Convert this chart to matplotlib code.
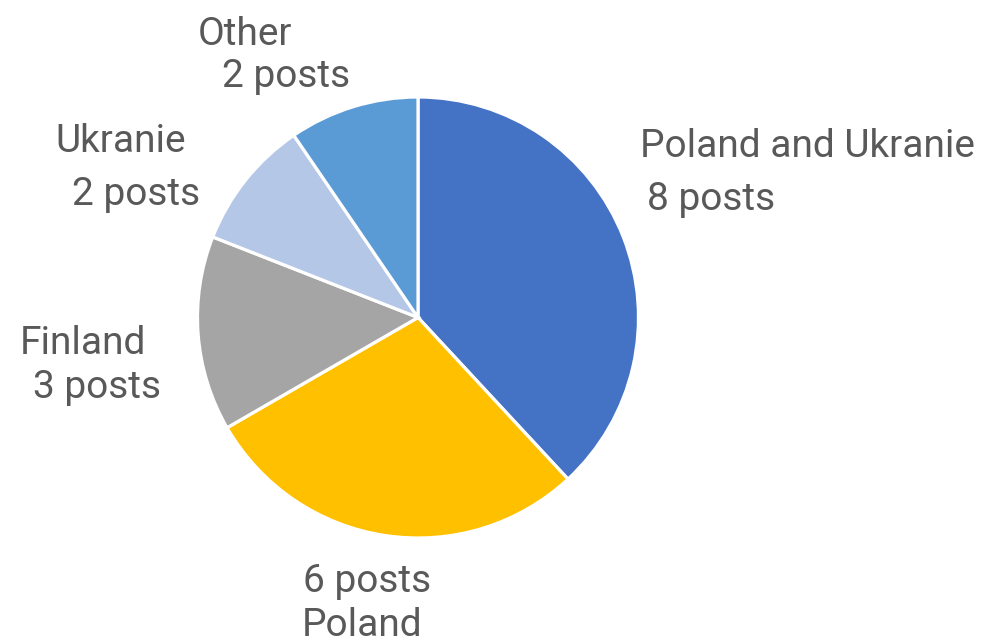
import matplotlib.pyplot as plt

# data
names = ["Poland and Ukranie", "Poland", "Finland", "Ukranie", "Other"]
posts = [8, 6, 3, 2, 2]
colors = ["#4472C4", "#FFC000", "#A5A5A5", "#B4C7E7", "#5B9BD5"]

W, H = 986, 643
fig = plt.figure(figsize=(W / 100, H / 100), dpi=100)
ax = fig.add_axes([0, 0, 1, 1])

# pie in pixel units (y up)
ax.pie(posts, colors=colors, startangle=90, counterclock=False,
       center=(418, H - 317.5), radius=220.5,
       wedgeprops=dict(edgecolor="white", linewidth=2.3))

ax.set_xlim(0, W)
ax.set_ylim(0, H)
ax.set_aspect("equal")
ax.axis("off")

# label lines: (text, x left, baseline from top)
lines = [
    (names[0], 640, 157), (f"{posts[0]} posts", 647, 210),
    ("6 posts", 303, 592), (names[1], 302, 636),
    (names[2], 20, 354), ("3 posts", 33, 398),
    (names[3], 55, 152), ("2 posts", 72, 205),
    (names[4], 198, 45), ("2 posts", 222, 87),
]
for txt, x, yb in lines:
    ax.text(x, H - yb, txt, ha="left", va="baseline", fontsize=28,
            family="Roboto", fontweight="normal", color="#595959")

fig.savefig("out.png", dpi=100)
